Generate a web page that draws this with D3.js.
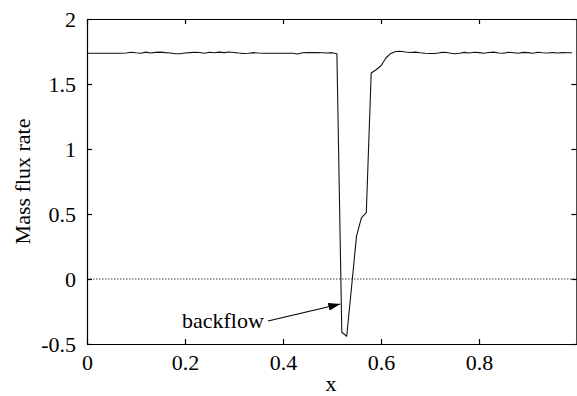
<!DOCTYPE html>
<html>
<head>
<meta charset="utf-8">
<script src="https://cdn.jsdelivr.net/npm/d3@7/dist/d3.min.js"></script>
<style>
html,body{margin:0;padding:0;background:#fff;}
svg{display:block;}
</style>
</head>
<body>
<svg id="chart" width="577" height="396"></svg>
<script>
// x positions (step 0.01)
const xValues = d3.range(0, 100).map(i => +(i / 100).toFixed(2));
// mass flux rate
const fluxValues = [
  1.736,1.736,1.736,1.736,1.736,1.736,1.736,1.736,1.738,1.744,
  1.740,1.737,1.745,1.739,1.743,1.745,1.741,1.738,1.733,1.733,
  1.738,1.741,1.744,1.742,1.737,1.744,1.740,1.745,1.741,1.746,
  1.742,1.738,1.735,1.737,1.741,1.738,1.736,1.737,1.736,1.736,
  1.737,1.736,1.736,1.731,1.740,1.741,1.742,1.741,1.740,1.739,
  1.741,1.733,-0.410,-0.440,-0.060,0.330,0.470,0.510,1.585,1.610,
  1.640,1.700,1.735,1.750,1.752,1.746,1.742,1.745,1.740,1.736,
  1.735,1.735,1.741,1.744,1.738,1.733,1.737,1.743,1.739,1.744,
  1.741,1.737,1.742,1.745,1.739,1.737,1.744,1.740,1.736,1.743,
  1.741,1.737,1.744,1.740,1.738,1.742,1.739,1.741,1.740,1.740
];
const xTicks = [0, 0.2, 0.4, 0.6, 0.8];
const yTicks = [-0.5, 0, 0.5, 1, 1.5, 2];
const yTickLabels = ["-0.5", "0", "0.5", "1", "1.5", "2"];
const xTickLabels = ["0", "0.2", "0.4", "0.6", "0.8"];
const xLabel = "x";
const yLabel = "Mass flux rate";
const annotationText = "backflow";
const annotationTarget = [0.518, -0.2];

const FONT = "Liberation Serif, Times New Roman, Times, DejaVu Serif, serif";
const svg = d3.select("#chart").attr("font-family", FONT);
const L = 87, R = 577, T = 19, B = 344;
const x = d3.scaleLinear().domain([0, 1]).range([L, R]);
const y = d3.scaleLinear().domain([-0.5, 2]).range([B, T]);
const fs = 22;

// zero dotted line
svg.append("line")
  .attr("x1", x(0)).attr("x2", x(1))
  .attr("y1", y(0)).attr("y2", y(0))
  .attr("stroke", "#444").attr("stroke-width", 1)
  .attr("stroke-dasharray", "1.5,1.5");

// data line
const line = d3.line().x((d, i) => x(xValues[i])).y(d => y(d));
svg.append("path")
  .datum(fluxValues)
  .attr("d", line)
  .attr("fill", "none")
  .attr("stroke", "#111")
  .attr("stroke-width", 1.1)
  .attr("stroke-linejoin", "round");

// axes (MATLAB-like box with inward ticks)
const axBottom = d3.axisBottom(x).tickValues(xTicks).tickSizeInner(-5).tickSizeOuter(0)
  .tickFormat((d, i) => xTickLabels[i]).tickPadding(10);
const axLeft = d3.axisLeft(y).tickValues(yTicks).tickSizeInner(-5).tickSizeOuter(0)
  .tickFormat((d, i) => yTickLabels[i]).tickPadding(11);
const axTop = d3.axisTop(x).tickValues(xTicks).tickSizeInner(-5).tickSizeOuter(0).tickFormat("");
const axRight = d3.axisRight(y).tickValues(yTicks).tickSizeInner(-5).tickSizeOuter(0).tickFormat("");

function styleAxis(g) {
  g.attr("font-family", FONT).attr("font-size", fs);
  g.selectAll("path,line").attr("stroke", "#000").attr("stroke-width", 1.2);
  g.selectAll("text").attr("font-family", FONT).attr("font-size", fs).attr("fill", "#000");
}
svg.append("g").attr("transform", `translate(0,${B})`).call(axBottom).call(styleAxis);
svg.append("g").attr("transform", `translate(${L},0)`).call(axLeft).call(styleAxis);
svg.append("g").attr("transform", `translate(0,${T})`).call(axTop).call(styleAxis);
svg.append("g").attr("transform", `translate(${R - 0.6},0)`).call(axRight).call(styleAxis);

// axis labels
svg.append("text").attr("x", (L + R) / 2 - 1).attr("y", 391)
  .attr("text-anchor", "middle").attr("font-family", FONT).attr("font-size", fs).text(xLabel);
svg.append("text")
  .attr("transform", `translate(30,${(T + B) / 2}) rotate(-90)`)
  .attr("text-anchor", "middle").attr("font-family", FONT).attr("font-size", fs).text(yLabel);

// annotation
svg.append("defs").append("marker")
  .attr("id", "arrow").attr("viewBox", "0 0 12 8").attr("refX", 12).attr("refY", 4)
  .attr("markerWidth", 12).attr("markerHeight", 8).attr("markerUnits", "userSpaceOnUse")
  .attr("orient", "auto")
  .append("path").attr("d", "M0,0 L12,4 L0,8 Z").attr("fill", "#000");
svg.append("text").attr("x", 182).attr("y", 328)
  .attr("font-family", FONT).attr("font-size", fs).text(annotationText);
svg.append("line")
  .attr("x1", 268).attr("y1", 321)
  .attr("x2", x(annotationTarget[0]) - 0.5).attr("y2", y(annotationTarget[1]) - 1)
  .attr("stroke", "#000").attr("stroke-width", 1.2)
  .attr("marker-end", "url(#arrow)");
</script>
</body>
</html>
